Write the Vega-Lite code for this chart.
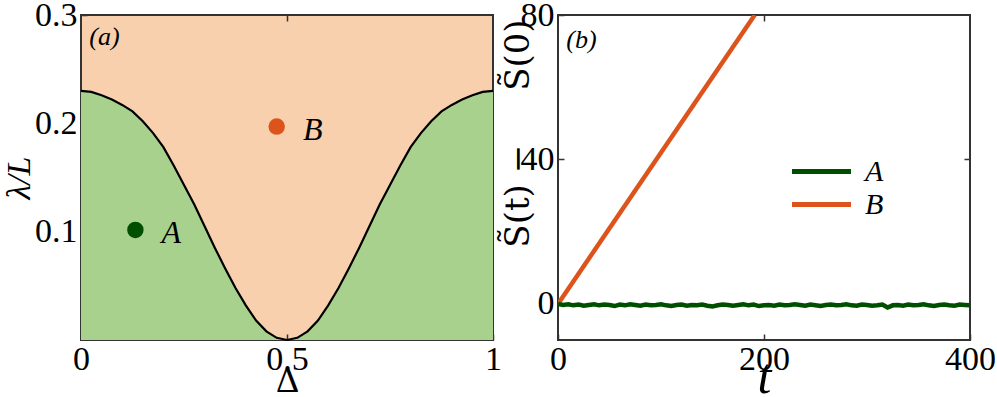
{
  "$schema": "https://vega.github.io/schema/vega-lite/v6.json",
  "padding": {"left": 1, "top": -3, "right": 0, "bottom": 0},
  "background": "white",
  "spacing": -3,
  "resolve": {"scale": {"color": "independent"}, "legend": {"color": "independent"}},
  "config": {
    "font": "Liberation Serif",
    "view": {"stroke": "#333333", "strokeWidth": 2},
    "axis": {
      "labelFont": "Liberation Serif",
      "labelFontSize": 34,
      "labelColor": "black",
      "titleFont": "Liberation Serif",
      "titleFontWeight": "normal",
      "titleColor": "black",
      "grid": false,
      "domain": false,
      "ticks": true,
      "tickColor": "#333333",
      "tickSize": -6,
      "tickWidth": 1.5,
      "labelPadding": 10,
      "labelOverlap": false,
      "labelBound": false,
      "labelFlush": false
    }
  },
  "datasets": {
    "curve": [
      {"d": 0.0, "lam": 0.230}, {"d": 0.025, "lam": 0.229}, {"d": 0.05, "lam": 0.226}, {"d": 0.075, "lam": 0.222},
      {"d": 0.1, "lam": 0.217}, {"d": 0.125, "lam": 0.211}, {"d": 0.15, "lam": 0.202}, {"d": 0.175, "lam": 0.191},
      {"d": 0.2, "lam": 0.178}, {"d": 0.225, "lam": 0.161}, {"d": 0.25, "lam": 0.143}, {"d": 0.275, "lam": 0.125},
      {"d": 0.3, "lam": 0.105}, {"d": 0.325, "lam": 0.085}, {"d": 0.35, "lam": 0.066}, {"d": 0.375, "lam": 0.048},
      {"d": 0.4, "lam": 0.032}, {"d": 0.425, "lam": 0.018}, {"d": 0.45, "lam": 0.008}, {"d": 0.475, "lam": 0.002},
      {"d": 0.5, "lam": 0.0},
      {"d": 0.525, "lam": 0.002}, {"d": 0.55, "lam": 0.008}, {"d": 0.575, "lam": 0.018}, {"d": 0.6, "lam": 0.032},
      {"d": 0.625, "lam": 0.048}, {"d": 0.65, "lam": 0.066}, {"d": 0.675, "lam": 0.085}, {"d": 0.7, "lam": 0.105},
      {"d": 0.725, "lam": 0.125}, {"d": 0.75, "lam": 0.143}, {"d": 0.775, "lam": 0.161}, {"d": 0.8, "lam": 0.178},
      {"d": 0.825, "lam": 0.191}, {"d": 0.85, "lam": 0.202}, {"d": 0.875, "lam": 0.211}, {"d": 0.9, "lam": 0.217},
      {"d": 0.925, "lam": 0.222}, {"d": 0.95, "lam": 0.226}, {"d": 0.975, "lam": 0.229}, {"d": 1.0, "lam": 0.230}
    ],
    "points": [
      {"d": 0.132, "lam": 0.1016, "series": "A"},
      {"d": 0.475, "lam": 0.197, "series": "B"}
    ],
    "series": [
      {"t": 0, "S": 0, "series": "B"}, {"t": 191, "S": 80, "series": "B"},
      {"t": 0, "S": 0, "series": "A"}, {"t": 5, "S": -0.3, "series": "A"}, {"t": 10, "S": -0.1, "series": "A"},
      {"t": 15, "S": -0.4, "series": "A"}, {"t": 20, "S": -0.2, "series": "A"}, {"t": 25, "S": -0.5, "series": "A"},
      {"t": 30, "S": -0.3, "series": "A"}, {"t": 35, "S": -0.1, "series": "A"}, {"t": 40, "S": -0.4, "series": "A"},
      {"t": 45, "S": -0.2, "series": "A"}, {"t": 50, "S": -0.3, "series": "A"}, {"t": 55, "S": -0.6, "series": "A"},
      {"t": 60, "S": -0.2, "series": "A"}, {"t": 65, "S": -0.4, "series": "A"}, {"t": 70, "S": -0.1, "series": "A"},
      {"t": 75, "S": -0.3, "series": "A"}, {"t": 80, "S": -0.5, "series": "A"}, {"t": 85, "S": -0.2, "series": "A"},
      {"t": 90, "S": -0.4, "series": "A"}, {"t": 95, "S": -0.3, "series": "A"}, {"t": 100, "S": -0.1, "series": "A"},
      {"t": 105, "S": -0.4, "series": "A"}, {"t": 110, "S": -0.6, "series": "A"}, {"t": 115, "S": -0.3, "series": "A"},
      {"t": 120, "S": -0.2, "series": "A"}, {"t": 125, "S": -0.5, "series": "A"}, {"t": 130, "S": -0.3, "series": "A"},
      {"t": 135, "S": -0.4, "series": "A"}, {"t": 140, "S": -0.2, "series": "A"}, {"t": 145, "S": -0.5, "series": "A"},
      {"t": 150, "S": -0.7, "series": "A"}, {"t": 155, "S": -0.4, "series": "A"}, {"t": 160, "S": -0.2, "series": "A"},
      {"t": 165, "S": -0.3, "series": "A"}, {"t": 170, "S": -0.5, "series": "A"}, {"t": 175, "S": -0.3, "series": "A"},
      {"t": 180, "S": -0.1, "series": "A"}, {"t": 185, "S": -0.4, "series": "A"}, {"t": 190, "S": -0.2, "series": "A"},
      {"t": 195, "S": -0.6, "series": "A"}, {"t": 200, "S": -0.4, "series": "A"}, {"t": 205, "S": -0.3, "series": "A"},
      {"t": 210, "S": -0.5, "series": "A"}, {"t": 215, "S": -0.2, "series": "A"}, {"t": 220, "S": -0.4, "series": "A"},
      {"t": 225, "S": -0.3, "series": "A"}, {"t": 230, "S": -0.1, "series": "A"}, {"t": 235, "S": -0.3, "series": "A"},
      {"t": 240, "S": -0.5, "series": "A"}, {"t": 245, "S": -0.2, "series": "A"}, {"t": 250, "S": -0.4, "series": "A"},
      {"t": 255, "S": -0.6, "series": "A"}, {"t": 260, "S": -0.3, "series": "A"}, {"t": 265, "S": -0.2, "series": "A"},
      {"t": 270, "S": -0.4, "series": "A"}, {"t": 275, "S": -0.3, "series": "A"}, {"t": 280, "S": -0.1, "series": "A"},
      {"t": 285, "S": -0.4, "series": "A"}, {"t": 290, "S": -0.5, "series": "A"}, {"t": 295, "S": -0.2, "series": "A"},
      {"t": 300, "S": -0.3, "series": "A"}, {"t": 305, "S": -0.5, "series": "A"}, {"t": 310, "S": -0.4, "series": "A"},
      {"t": 315, "S": -0.2, "series": "A"}, {"t": 320, "S": -1.0, "series": "A"}, {"t": 325, "S": -0.4, "series": "A"},
      {"t": 330, "S": -0.3, "series": "A"}, {"t": 335, "S": -0.5, "series": "A"}, {"t": 340, "S": -0.2, "series": "A"},
      {"t": 345, "S": -0.4, "series": "A"}, {"t": 350, "S": -0.3, "series": "A"}, {"t": 355, "S": -0.1, "series": "A"},
      {"t": 360, "S": -0.4, "series": "A"}, {"t": 365, "S": -0.6, "series": "A"}, {"t": 370, "S": -0.3, "series": "A"},
      {"t": 375, "S": -0.2, "series": "A"}, {"t": 380, "S": -0.4, "series": "A"}, {"t": 385, "S": -0.5, "series": "A"},
      {"t": 390, "S": -0.2, "series": "A"}, {"t": 395, "S": -0.3, "series": "A"}, {"t": 400, "S": -0.4, "series": "A"}
    ],
    "panelA": [{"d": 0.02, "lam": 0.28, "label": "(a)"}],
    "panelB": [{"t": 8, "S": 73, "label": "(b)"}]
  },
  "hconcat": [
    {
      "width": 412,
      "height": 325,
      "view": {"fill": "#f8d0ae"},
      "resolve": {"axis": {"x": "independent", "y": "independent"}},
      "layer": [
        {
          "data": {"name": "curve"},
          "mark": {"type": "area", "color": "#a8d18d", "clip": true},
          "encoding": {
            "x": {"field": "d", "type": "quantitative", "scale": {"domain": [0, 1], "nice": false},
              "axis": {"values": [0, 0.5, 1], "labelExpr": "datum.value", "labelPadding": 8, "title": "Δ", "titleFontSize": 36, "titlePadding": -13}},
            "y": {"field": "lam", "type": "quantitative", "scale": {"domain": [0, 0.3], "nice": false},
              "axis": {"values": [0.1, 0.2, 0.3], "format": ".1f", "title": "λ/L", "titleFontSize": 34, "titleFontStyle": "italic", "titlePadding": -1.5}}
          }
        },
        {
          "data": {"name": "curve"},
          "mark": {"type": "line", "color": "black", "strokeWidth": 2.2},
          "encoding": {
            "x": {"field": "d", "type": "quantitative", "axis": {"orient": "top", "values": [0.5], "labels": false, "title": null}},
            "y": {"field": "lam", "type": "quantitative", "axis": {"orient": "right", "values": [0.1, 0.2], "labels": false, "title": null}}
          }
        },
        {
          "data": {"name": "points"},
          "mark": {"type": "circle", "size": 270, "opacity": 1},
          "encoding": {
            "x": {"field": "d", "type": "quantitative", "axis": null},
            "y": {"field": "lam", "type": "quantitative", "axis": null},
            "color": {"field": "series", "type": "nominal", "scale": {"domain": ["A", "B"], "range": ["#004f00", "#dc541c"]}, "legend": null}
          }
        },
        {
          "data": {"name": "points"},
          "mark": {"type": "text", "dx": 36, "dy": 3, "fontSize": 32, "fontStyle": "italic", "font": "Liberation Serif", "color": "black"},
          "encoding": {
            "x": {"field": "d", "type": "quantitative", "axis": null},
            "y": {"field": "lam", "type": "quantitative", "axis": null},
            "text": {"field": "series"}
          }
        },
        {
          "data": {"name": "panelA"},
          "mark": {"type": "text", "align": "left", "fontSize": 26, "fontStyle": "italic", "font": "Liberation Serif", "color": "black"},
          "encoding": {
            "x": {"field": "d", "type": "quantitative", "axis": null},
            "y": {"field": "lam", "type": "quantitative", "axis": null},
            "text": {"field": "label"}
          }
        }
      ]
    },
    {
      "width": 412,
      "height": 325,
      "resolve": {"axis": {"x": "independent", "y": "independent"}},
      "layer": [
        {
          "data": {"name": "series"},
          "mark": {"type": "line", "strokeWidth": 4.5, "clip": true},
          "encoding": {
            "x": {"field": "t", "type": "quantitative", "scale": {"domain": [0, 400], "nice": false},
              "axis": {"values": [0, 200, 400], "labelPadding": 8, "title": "t", "titleFontSize": 50, "titleFontStyle": "italic", "titlePadding": -24}},
            "y": {"field": "S", "type": "quantitative", "scale": {"domain": [-10, 80], "nice": false},
              "axis": {"values": [0, 40, 80], "title": "S̃(t) −\u00a0\u00a0\u00a0\u00a0\u00a0S̃(0)", "titleFont": "DejaVu Serif", "titleFontSize": 34, "titlePadding": -15, "titleY": 118}},
            "color": {"field": "series", "type": "nominal", "scale": {"domain": ["A", "B"], "range": ["#004f00", "#dc541c"]},
              "legend": {"orient": "none", "legendX": 246, "legendY": 139, "title": null, "symbolType": "M-2,0L2,0", "symbolStrokeWidth": 5,
                "symbolSize": 870, "labelFontSize": 30, "labelFont": "Liberation Serif", "labelFontStyle": "italic", "labelColor": "black", "rowPadding": 0, "labelOffset": 26}},
            "order": {"field": "series", "sort": "ascending"}
          }
        },
        {
          "data": {"name": "panelB"},
          "mark": {"type": "text", "align": "left", "fontSize": 26, "fontStyle": "italic", "font": "Liberation Serif", "color": "black"},
          "encoding": {
            "x": {"field": "t", "type": "quantitative", "axis": {"orient": "top", "values": [200], "labels": false, "title": null}},
            "y": {"field": "S", "type": "quantitative", "axis": {"orient": "right", "values": [40], "labels": false, "title": null}},
            "text": {"field": "label"}
          }
        }
      ]
    }
  ]
}
